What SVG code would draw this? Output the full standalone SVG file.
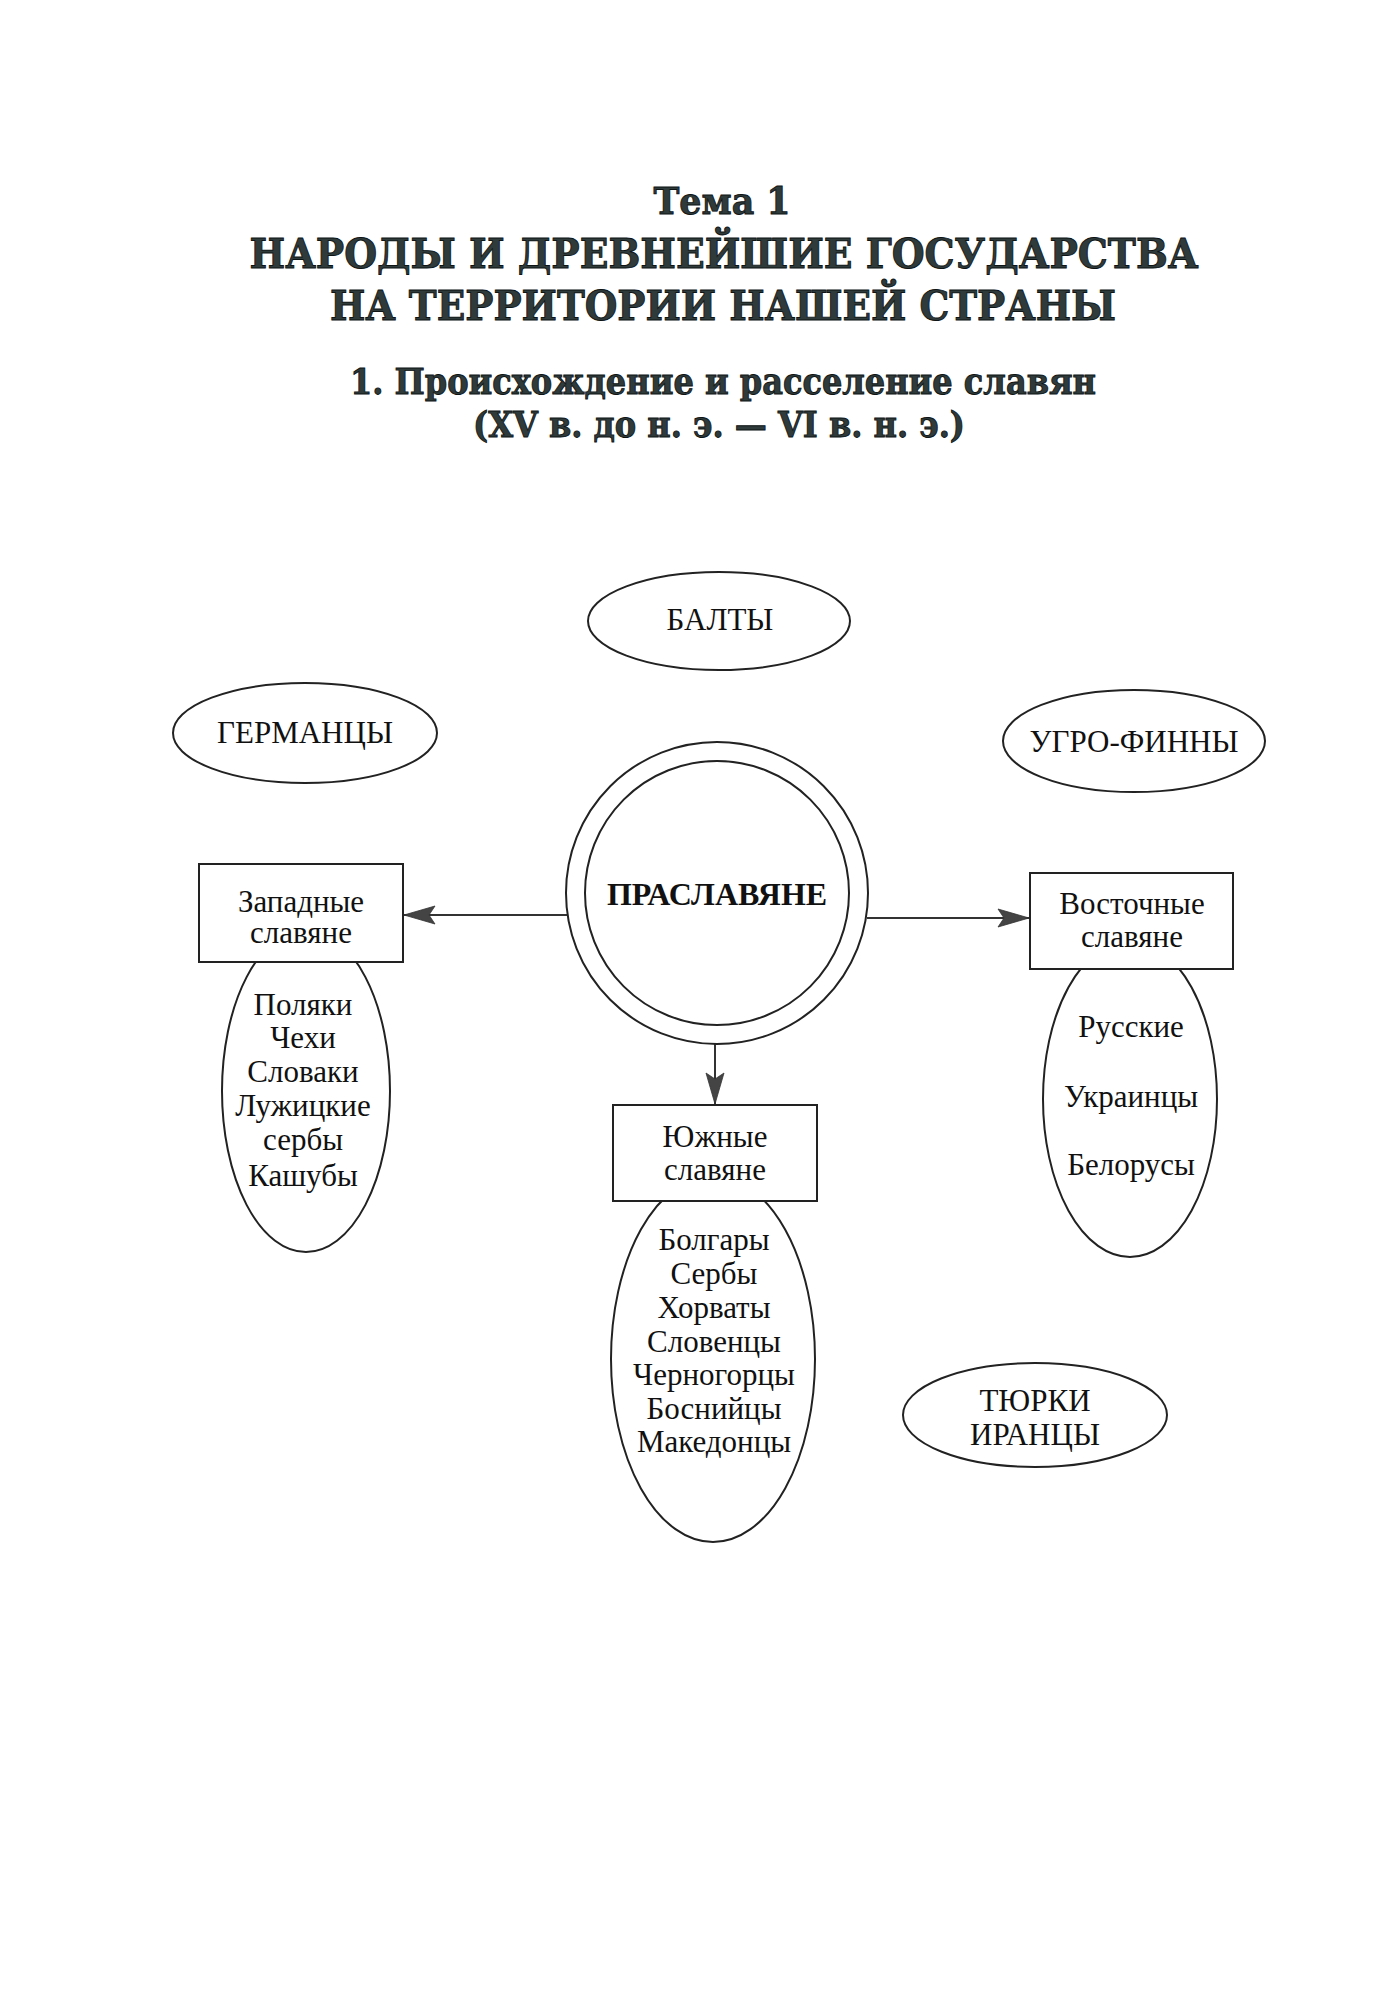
<svg xmlns="http://www.w3.org/2000/svg" width="1394" height="2000" viewBox="0 0 1394 2000">
<style>
.title{font-family:"DejaVu Serif","Liberation Serif",serif;font-weight:bold;fill:#2f3a3a;stroke:#0e1414;stroke-width:0.9;text-anchor:middle}
.lbl{font-family:"Liberation Serif","Times New Roman",serif;font-size:31px;fill:#111;text-anchor:middle}
.big{font-size:31px}
.bold{font-weight:bold;font-size:32px}
.shape{fill:#fff;stroke:#222;stroke-width:2}
.conn{stroke:#333;stroke-width:2;fill:none}
</style>
<defs>
<marker id="arr" viewBox="-33 -11 35 22" refX="0" refY="0" markerWidth="35" markerHeight="22" markerUnits="userSpaceOnUse" orient="auto">
<path d="M0,0 L-31,-9 L-25,0 L-31,9 Z" fill="#444" stroke="#333" stroke-width="0.8"/>
</marker>
</defs>
<rect width="1394" height="2000" fill="#fff"/>

<g id="title">
<text class="title" x="722" y="214" font-size="38" textLength="137" lengthAdjust="spacingAndGlyphs">Тема 1</text>
<text class="title" x="724" y="268" font-size="41" textLength="949" lengthAdjust="spacingAndGlyphs">НАРОДЫ И ДРЕВНЕЙШИЕ ГОСУДАРСТВА</text>
<text class="title" x="723" y="320" font-size="41" textLength="786" lengthAdjust="spacingAndGlyphs">НА ТЕРРИТОРИИ НАШЕЙ СТРАНЫ</text>
<text class="title" x="723" y="394" font-size="35" textLength="746" lengthAdjust="spacingAndGlyphs">1. Происхождение и расселение славян</text>
<text class="title" x="719" y="437" font-size="35" textLength="492" lengthAdjust="spacingAndGlyphs">(XV в. до н. э. — VI в. н. э.)</text>
</g>

<g id="connectors">
<line class="conn" x1="567" y1="915" x2="404" y2="915" marker-end="url(#arr)"/>
<line class="conn" x1="867" y1="918" x2="1029" y2="918" marker-end="url(#arr)"/>
<line class="conn" x1="715" y1="1044" x2="715" y2="1104" marker-end="url(#arr)"/>
</g>

<g id="balty">
<ellipse class="shape" cx="719" cy="621" rx="131" ry="49"/>
<text class="lbl big" x="720" y="630">БАЛТЫ</text>
</g>

<g id="germantsy">
<ellipse class="shape" cx="305" cy="733" rx="132" ry="50"/>
<text class="lbl big" x="305" y="743">ГЕРМАНЦЫ</text>
</g>

<g id="ugro-finny">
<ellipse class="shape" cx="1134" cy="741" rx="131" ry="51"/>
<text class="lbl big" x="1134" y="752">УГРО-ФИННЫ</text>
</g>

<g id="praslavyane">
<circle class="shape" cx="717" cy="893" r="151"/>
<circle class="shape" cx="717" cy="893" r="132"/>
<text class="lbl bold" x="717" y="905">ПРАСЛАВЯНЕ</text>
</g>

<g id="zapadnye-list">
<ellipse class="shape" cx="306" cy="1091" rx="84" ry="161"/>
<text class="lbl" x="303" y="1015">Поляки</text>
<text class="lbl" x="303" y="1048">Чехи</text>
<text class="lbl" x="303" y="1082">Словаки</text>
<text class="lbl" x="303" y="1116">Лужицкие</text>
<text class="lbl" x="303" y="1150">сербы</text>
<text class="lbl" x="303" y="1186">Кашубы</text>
</g>

<g id="zapadnye">
<rect class="shape" x="199" y="864" width="204" height="98"/>
<text class="lbl" x="301" y="912">Западные</text>
<text class="lbl" x="301" y="943">славяне</text>
</g>

<g id="vostochnye-list">
<ellipse class="shape" cx="1130" cy="1099" rx="87" ry="158"/>
<text class="lbl" x="1131" y="1037">Русские</text>
<text class="lbl" x="1131" y="1107">Украинцы</text>
<text class="lbl" x="1131" y="1175">Белорусы</text>
</g>

<g id="vostochnye">
<rect class="shape" x="1030" y="873" width="203" height="96"/>
<text class="lbl" x="1132" y="914">Восточные</text>
<text class="lbl" x="1132" y="947">славяне</text>
</g>

<g id="yuzhnye-list">
<ellipse class="shape" cx="713" cy="1359" rx="102" ry="183"/>
<text class="lbl" x="714" y="1250">Болгары</text>
<text class="lbl" x="714" y="1284">Сербы</text>
<text class="lbl" x="714" y="1318">Хорваты</text>
<text class="lbl" x="714" y="1352">Словенцы</text>
<text class="lbl" x="714" y="1385">Черногорцы</text>
<text class="lbl" x="714" y="1419">Боснийцы</text>
<text class="lbl" x="714" y="1452">Македонцы</text>
</g>

<g id="yuzhnye">
<rect class="shape" x="613" y="1105" width="204" height="96"/>
<text class="lbl" x="715" y="1147">Южные</text>
<text class="lbl" x="715" y="1180">славяне</text>
</g>

<g id="tyurki-irantsy">
<ellipse class="shape" cx="1035" cy="1415" rx="132" ry="52"/>
<text class="lbl big" x="1035" y="1411">ТЮРКИ</text>
<text class="lbl big" x="1035" y="1445">ИРАНЦЫ</text>
</g>
</svg>
